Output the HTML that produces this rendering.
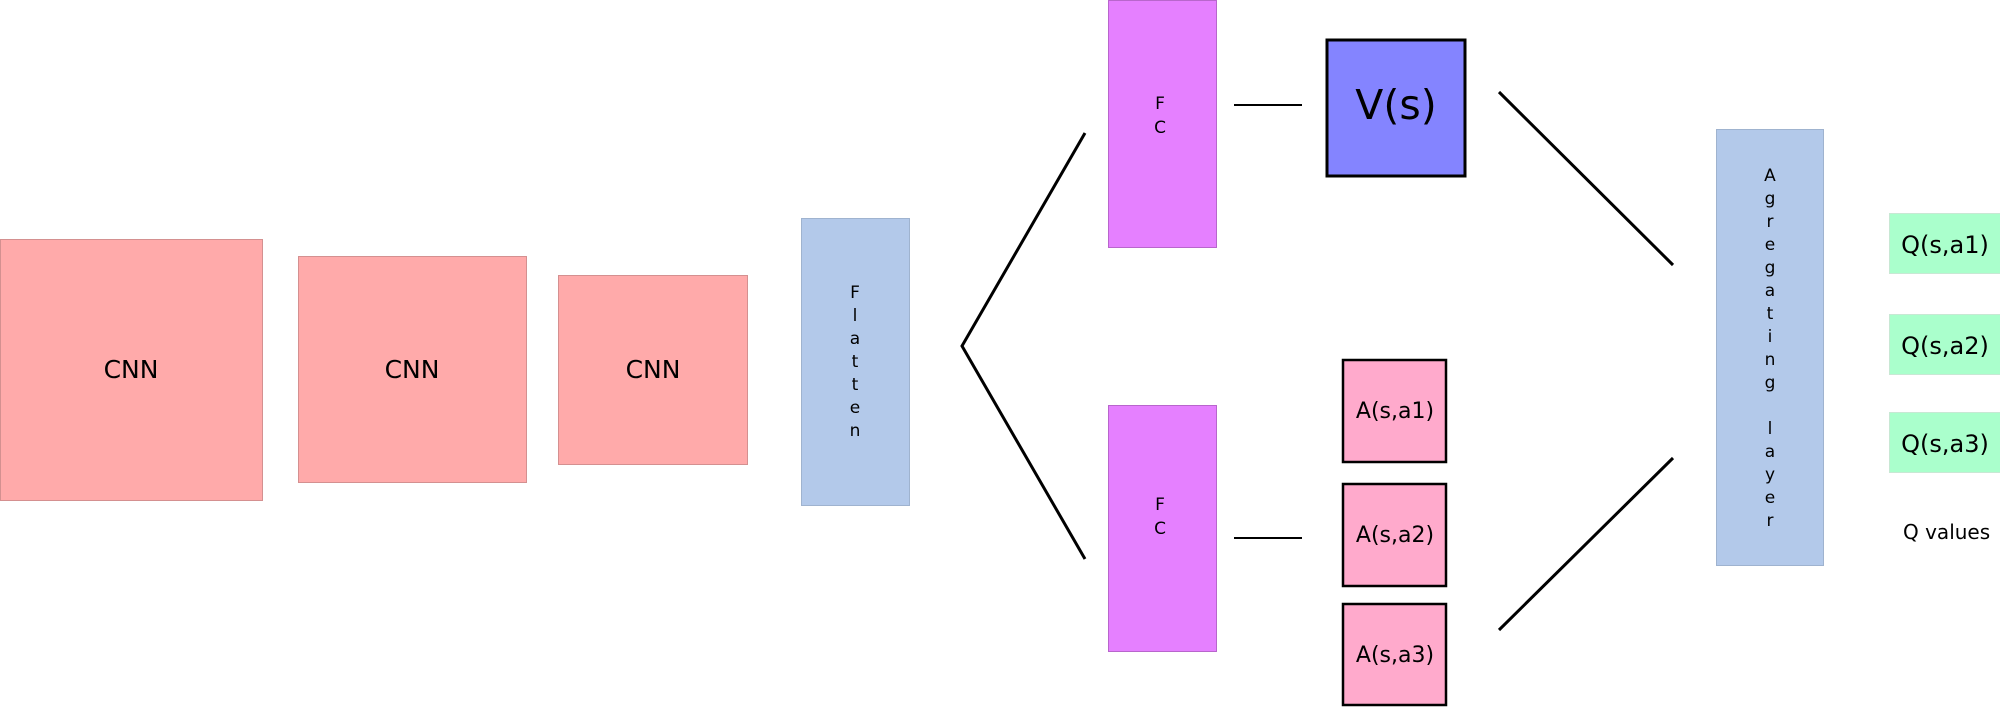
<!DOCTYPE html>
<html><head><meta charset="utf-8"><style>
html,body{margin:0;padding:0;background:#fff;}
svg{display:block;}
text{font-family:"DejaVu Sans","Liberation Sans",sans-serif;fill:#000;}
</style></head><body>
<svg width="2000" height="707" viewBox="0 0 2000 707" xmlns="http://www.w3.org/2000/svg">
<rect width="2000" height="707" fill="#fff"/>
<!-- CNNs -->
<rect x="0.5" y="239.5" width="262" height="261" fill="#ffaaaa" stroke="#d49090" stroke-width="1"/>
<text x="131" y="378" font-size="25" text-anchor="middle">CNN</text>
<rect x="298.5" y="256.5" width="228" height="226" fill="#ffaaaa" stroke="#d49090" stroke-width="1"/>
<text x="412" y="378" font-size="25" text-anchor="middle">CNN</text>
<rect x="558.5" y="275.5" width="189" height="189" fill="#ffaaaa" stroke="#d49090" stroke-width="1"/>
<text x="653" y="378" font-size="25" text-anchor="middle">CNN</text>
<!-- Flatten -->
<rect x="801.5" y="218.5" width="108" height="287" fill="#b3c9ea" stroke="#9fb3cf" stroke-width="1"/>
<g font-size="17" text-anchor="middle">
<text x="855" y="298">F</text><text x="855" y="321">l</text><text x="855" y="344">a</text>
<text x="855" y="367">t</text><text x="855" y="390">t</text><text x="855" y="413">e</text><text x="855" y="436">n</text>
</g>
<!-- chevron -->
<polyline points="1085,133 962,346 1085,559" fill="none" stroke="#000" stroke-width="3"/>
<!-- FC -->
<rect x="1108.5" y="0.5" width="108" height="247" fill="#e580ff" stroke="#b866cc" stroke-width="1"/>
<text x="1160" y="109" font-size="17" text-anchor="middle">F</text>
<text x="1160" y="133" font-size="17" text-anchor="middle">C</text>
<rect x="1108.5" y="405.5" width="108" height="246" fill="#e580ff" stroke="#b866cc" stroke-width="1"/>
<text x="1160" y="510" font-size="17" text-anchor="middle">F</text>
<text x="1160" y="534" font-size="17" text-anchor="middle">C</text>
<!-- short lines -->
<line x1="1234" y1="105" x2="1302" y2="105" stroke="#000" stroke-width="2"/>
<line x1="1234" y1="538" x2="1302" y2="538" stroke="#000" stroke-width="2"/>
<!-- V(s) -->
<rect x="1327" y="40" width="138" height="136" fill="#8484ff" stroke="#000" stroke-width="3"/>
<text x="1396" y="119" font-size="41" text-anchor="middle">V(s)</text>
<!-- A boxes -->
<rect x="1343" y="360" width="103" height="102" fill="#ffaacc" stroke="#000" stroke-width="2.5"/>
<text x="1395" y="418" font-size="22" text-anchor="middle">A(s,a1)</text>
<rect x="1343" y="484" width="103" height="102" fill="#ffaacc" stroke="#000" stroke-width="2.5"/>
<text x="1395" y="542" font-size="22" text-anchor="middle">A(s,a2)</text>
<rect x="1343" y="604" width="103" height="101" fill="#ffaacc" stroke="#000" stroke-width="2.5"/>
<text x="1395" y="662" font-size="22" text-anchor="middle">A(s,a3)</text>
<!-- diagonals -->
<line x1="1499" y1="92" x2="1673" y2="265" stroke="#000" stroke-width="3"/>
<line x1="1499" y1="630" x2="1673" y2="458" stroke="#000" stroke-width="3"/>
<!-- Aggregating layer -->
<rect x="1716.5" y="129.5" width="107" height="436" fill="#b3c9ea" stroke="#9fb3cf" stroke-width="1"/>
<g font-size="17" text-anchor="middle">
<text x="1770" y="181">A</text><text x="1770" y="204">g</text><text x="1770" y="227">r</text>
<text x="1770" y="250">e</text><text x="1770" y="273">g</text><text x="1770" y="296">a</text>
<text x="1770" y="319">t</text><text x="1770" y="342">i</text><text x="1770" y="365">n</text>
<text x="1770" y="388">g</text>
<text x="1770" y="434">l</text><text x="1770" y="457">a</text><text x="1770" y="480">y</text>
<text x="1770" y="503">e</text><text x="1770" y="526">r</text>
</g>
<!-- Q boxes -->
<rect x="1889.5" y="213.5" width="112" height="60" fill="#aaffcc" stroke="#c8e8d4" stroke-width="1"/>
<text x="1945" y="253" font-size="24" text-anchor="middle">Q(s,a1)</text>
<rect x="1889.5" y="314.5" width="112" height="60" fill="#aaffcc" stroke="#c8e8d4" stroke-width="1"/>
<text x="1945" y="354" font-size="24" text-anchor="middle">Q(s,a2)</text>
<rect x="1889.5" y="412.5" width="112" height="60" fill="#aaffcc" stroke="#c8e8d4" stroke-width="1"/>
<text x="1945" y="452" font-size="24" text-anchor="middle">Q(s,a3)</text>
<text x="1903" y="539" font-size="20">Q values</text>
</svg>
</body></html>
